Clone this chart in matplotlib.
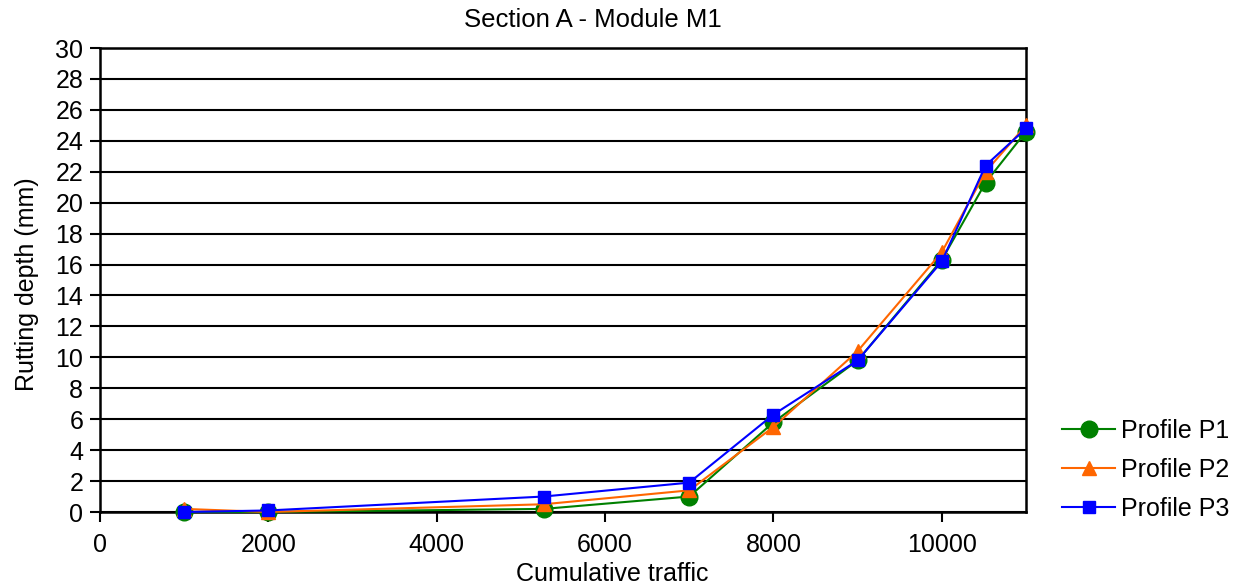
import numpy as np
import matplotlib
matplotlib.use("Agg")
import matplotlib.pyplot as plt

plt.rcParams['font.family'] = ['Liberation Sans', 'DejaVu Sans']

traffic = [1000, 2000, 5270, 7000, 8000, 9000, 10000, 10520, 11000]
profile_p1 = [0.0, 0.0, 0.2, 1.0, 5.8, 9.8, 16.3, 21.3, 24.6]
profile_p2 = [0.2, 0.0, 0.5, 1.4, 5.5, 10.4, 16.8, 22.0, 25.0]
profile_p3 = [0.0, 0.1, 1.0, 1.9, 6.3, 9.8, 16.2, 22.4, 24.8]

fig = plt.figure(figsize=(12.37, 5.87), dpi=100)
ax = fig.add_axes([100 / 1237, 1 - 512 / 587, 926 / 1237, 464 / 587])

ax.plot(traffic, profile_p1, color='#008000', marker='o', markersize=12,
        linewidth=1.5, label='Profile P1', zorder=3, clip_on=False)
ax.plot(traffic, profile_p2, color='#FF6600', marker='^', markersize=10,
        linewidth=1.5, label='Profile P2', zorder=4, clip_on=False)
ax.plot(traffic, profile_p3, color='#0000FF', marker='s', markersize=9,
        linewidth=1.5, label='Profile P3', zorder=5, clip_on=False)

ax.set_xlim(0, 11000)
ax.set_ylim(0, 30)
ax.set_xticks(np.arange(0, 11000, 2000))
ax.set_yticks(np.arange(0, 31, 2))
ax.yaxis.grid(True, color='black', linewidth=1.5)
ax.set_axisbelow(True)
for s in ax.spines.values():
    s.set_linewidth(1.8)
ax.tick_params(axis='both', labelsize=18, length=7, width=1.5, direction='out')
ax.tick_params(axis='y', pad=5)
ax.tick_params(axis='x', pad=8)

ax.set_xlabel('Cumulative traffic', fontsize=18)
ax.xaxis.set_label_coords(0.553, -0.108)
ax.set_ylabel('Rutting depth (mm)', fontsize=18)
ax.yaxis.set_label_coords(-0.066, 0.49)
fig.text(593 / 1237, 1 - 20 / 587, 'Section A - Module M1', fontsize=18.5,
         ha='center', va='center')

ax.legend(loc='center left', bbox_to_anchor=(1.015, 0.09), frameon=False,
          fontsize=18, handlelength=2.1, labelspacing=0.6, handletextpad=0.25)

fig.savefig('out.png', dpi=100)
